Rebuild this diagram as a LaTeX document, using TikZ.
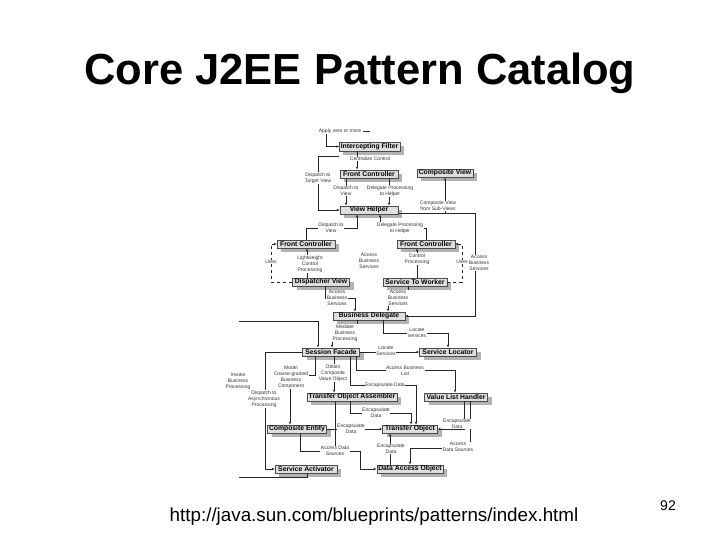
\documentclass[tikz,border=0pt]{standalone}
\usepackage{fontspec}
\setmainfont{Liberation Sans}
\usetikzlibrary{shadows,arrows.meta}
\begin{document}
\begin{tikzpicture}[x=1pt,y=-1pt,
  pbox/.style={draw=black!70, line width=0.4pt, fill=gray!25,
    font=\bfseries\fontsize{6.8}{7}\selectfont, minimum height=8.5pt, inner xsep=1.5pt, inner ysep=1pt,
    general shadow={fill=gray!60, shadow xshift=4pt, shadow yshift=-4pt}},
  lbl/.style={font=\fontsize{5}{6}\selectfont, text=black!80, align=center, inner sep=0.6pt, fill=white},
  conn/.style={draw=black!85, line width=0.5pt},
  arr/.style={conn, -{Latex[length=2.6pt,width=2.4pt]}},
  title/.style={font=\bfseries\fontsize{43.5}{50}\selectfont},
  foot/.style={font=\fontsize{18.8}{22}\selectfont}]
\fill[white] (0,0) rectangle (720,540);
\useasboundingbox (0,0) rectangle (720,540);

% title and footer
\node[title, anchor=base] (ttl) at (360,85) {Core J2EE Pattern Catalog};
\node[foot, anchor=base] (url) at (374,521) {http://java.sun.com/blueprints/patterns/index.html};
\node[font=\fontsize{14}{16}\selectfont, anchor=base] (pg) at (668,510) {92};

% pattern boxes
\node[pbox, minimum width=57pt] (IF)  at (369.5,146.5) {Intercepting Filter};
\node[pbox, minimum width=58pt] (FCt) at (369,174) {Front Controller};
\node[pbox, minimum width=54pt] (CV)  at (445,173) {Composite View};
\node[pbox, minimum width=58pt] (VH)  at (369,210) {View Helper};
\node[pbox, minimum width=58pt] (FCl) at (306,244) {Front Controller};
\node[pbox, minimum width=58pt] (FCr) at (426,244) {Front Controller};
\node[pbox, minimum width=57pt] (DV)  at (321,282) {Dispatcher View};
\node[pbox, minimum width=64pt] (STW) at (415,282) {Service To Worker};
\node[pbox, minimum width=72pt] (BD)  at (369,316) {Business Delegate};
\node[pbox, minimum width=57pt] (SF)  at (331,352) {Session Facade};
\node[pbox, minimum width=57pt] (SL)  at (448,352) {Service Locator};
\node[pbox, minimum width=87pt] (TOA) at (352,397) {Transfer Object Assembler};
\node[pbox, minimum width=63pt] (VLH) at (456,397) {Value List Handler};
\node[pbox, minimum width=59pt] (CE)  at (297,429) {Composite Entity};
\node[pbox, minimum width=55pt] (TO)  at (410,429) {Transfer Object};
\node[pbox, minimum width=62pt] (SA)  at (306,469) {Service Activator};
\node[pbox, minimum width=65pt] (DAO) at (410,469) {Data Access Object};

% free ends
\coordinate (ap) at (326,134);
\coordinate (ap2) at (363,131);
\coordinate (ib) at (239,321);
\coordinate (sab) at (239,477);

% connectors
\draw[arr] (ap) |- (IF.west);
\draw[conn] (ap2) -- ++(7,0);
\draw[arr] (357,0 |- IF.south) -- (357,0 |- FCt.north);
\draw[arr] ([yshift=-5pt]IF.south west) -| (318,0 |- VH.west) -- (VH.west);
\draw[arr] (346,0 |- FCt.south) -- (346,0 |- VH.north);
\draw[arr] (389,0 |- FCt.south) -- (389,0 |- VH.north);
\draw[arr] ([yshift=-3pt]VH.east) -| (CV.south);
\draw[arr] ([yshift=-3pt]VH.east) -| (475,0 |- BD.east) -- (BD.east);
\draw[arr] (FCl.north) |- (357,228) -- (357,0 |- VH.south);
\draw[arr] (FCr.north) |- (380,228) -- (380,0 |- VH.south);
\draw[arr] (307,0 |- DV.north) -- (307,0 |- FCl.south);
\draw[arr, dashed] (DV.west) -| (271,0 |- FCl.west) -- (FCl.west);
\draw[arr, dashed] (STW.east) -| (462,0 |- FCr.east) -- (FCr.east);
\draw[arr] (417,0 |- STW.north) -- (417,0 |- FCr.south);
\draw[arr] (325,0 |- DV.south) |- (355,298) -- (355,0 |- BD.north);
\draw[arr] (408,0 |- STW.south) |- (388,298) -- (388,0 |- BD.north);
\draw[arr] (357,0 |- BD.south) |- (332,333) -- (332,0 |- SF.north);
\draw[arr] (383,0 |- BD.south) |- (448,333) -- (SL.north);
\draw[arr] (SF.east) -- (SL.west);
\draw[arr] (ib) -| (318,0 |- SF.north);
\draw[arr] (SF.west) -| (265,0 |- SA.west) -- (SA.west);
\draw[conn] (307,0 |- SA.south) |- (sab);
\draw[arr] (315,0 |- SF.south) |- (290,375) -- (290,0 |- CE.north);
\draw[arr] (334,0 |- SF.south) -- (334,0 |- TOA.north);
\draw[arr] (350,0 |- SF.south) |- (416,385) -- (416,0 |- TO.north);
\draw[arr] (356,0 |- SF.south) |- (455,370) -- (455,0 |- VLH.north);
\draw[arr] (350,0 |- TOA.south) |- (411,413) -- (411,0 |- TO.north);
\draw[conn] (335,0 |- TOA.south) -- (335,451);
\draw[arr] (300,0 |- CE.south) |- (360,451) |- (DAO.west);
\draw[arr] (CE.east) -- (TO.west);
\draw[arr] (390,0 |- DAO.north) -- (390,0 |- TO.south);
\draw[arr] (464,0 |- VLH.south) |- (TO.east);
\draw[arr] (470,0 |- VLH.south) |- (410,448) -- (410,0 |- DAO.north);

% labels
\node[lbl] (lApply) at (340,131) {Apply zero or more};
\node[lbl] (lCC) at (370,159) {Centralize Control};
\node[lbl] (lDTV) at (318,178) {Dispatch to\\Target View};
\node[lbl] (lDV1) at (346,191) {Dispatch to\\View};
\node[lbl] (lDPH1) at (390,191) {Delegate Processing\\to Helper};
\node[lbl] (lCV) at (438,206) {Composite View\\from Sub-Views};
\node[lbl] (lDV2) at (331,228) {Dispatch to\\View};
\node[lbl] (lDPH2) at (400,228) {Delegate Processing\\to Helper};
\node[lbl] (lLCP) at (310,264) {Lightweight\\Control\\Processing};
\node[lbl] (lU1) at (271,262) {Uses};
\node[lbl] (lU2) at (462,262) {Uses};
\node[lbl] (lABS0) at (369,261) {Access\\Business\\Services};
\node[lbl] (lCP) at (417,259) {Control\\Processing};
\node[lbl] (lABS3) at (479,263) {Access\\Business\\Services};
\node[lbl] (lABS1) at (337,298) {Access\\Business\\Services};
\node[lbl] (lABS2) at (398,298) {Access\\Business\\Services};
\node[lbl] (lMBP) at (345,333) {Mediate\\Business\\Processing};
\node[lbl] (lLS1) at (417,333) {Locate\\services};
\node[lbl] (lLS2) at (386,351) {Locate\\Services};
\node[lbl] (lMCG) at (291,377) {Model\\Coarse-grained\\Business\\Component};
\node[lbl] (lOCV) at (333,373) {Obtain\\Composite\\Value Object};
\node[lbl] (lABL) at (405,371) {Access Business\\List};
\node[lbl] (lED1) at (385,385) {Encapsulate Data};
\node[lbl] (lIBP) at (238,381) {Invoke\\Business\\Processing};
\node[lbl] (lDAP) at (264,399) {Dispatch to\\Asynchronous\\Processing};
\node[lbl] (lED2) at (376,413) {Encapsulate\\Data};
\node[lbl] (lED3) at (351,429) {Encapsulate\\Data};
\node[lbl] (lED4) at (457,424) {Encapsulate\\Data};
\node[lbl] (lADS1) at (335,451) {Access Data\\Sources};
\node[lbl] (lED5) at (391,449) {Encapsulate\\Data};
\node[lbl] (lADS2) at (458,447) {Access\\Data Sources};
\end{tikzpicture}
\end{document}
